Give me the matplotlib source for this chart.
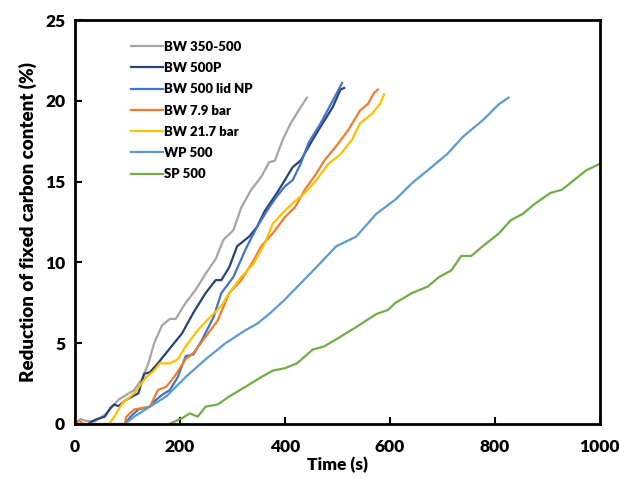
import matplotlib.pyplot as plt

plt.rcParams['font.family'] = ['Lato', 'DejaVu Sans']
plt.rcParams['font.weight'] = 'heavy'

# BW 350-500
t_gray = [0, 4, 11, 19, 38, 60, 72, 83, 98, 113, 128, 140, 151, 166, 181, 192, 211, 230,
          249, 268, 283, 302, 317, 336, 355, 370, 381, 396, 411, 426, 442]
v_gray = [0, 0.15, 0.3, 0.2, 0.15, 0.65, 1.1, 1.5, 1.8, 2.1, 2.8, 3.75, 5.0, 6.1, 6.5, 6.5,
          7.5, 8.3, 9.3, 10.2, 11.4, 12.0, 13.4, 14.5, 15.3, 16.2, 16.3, 17.6, 18.6, 19.4, 20.2]

# BW 500P
t_navy = [25, 38, 57, 68, 75, 83, 98, 121, 132, 143, 158, 174, 189, 204, 226, 249, 268, 279,
          294, 309, 332, 347, 362, 385, 400, 415, 430, 453, 468, 491, 506, 513]
v_navy = [0, 0.25, 0.45, 1.0, 1.2, 1.1, 1.5, 1.9, 3.1, 3.2, 3.75, 4.4, 5.0, 5.6, 6.9, 8.1,
          8.9, 8.9, 9.7, 11.0, 11.6, 12.2, 13.2, 14.3, 15.1, 15.9, 16.3, 17.6, 18.4, 19.6,
          20.7, 20.8]

# BW 500 lid NP
t_blue = [95, 106, 121, 143, 155, 166, 181, 196, 211, 226, 242, 264, 279, 302, 325, 347, 370,
          385, 400, 415, 430, 445, 468, 491, 509]
v_blue = [0, 0.45, 0.9, 1.07, 1.5, 1.8, 2.1, 2.9, 4.2, 4.3, 5.2, 6.6, 8.1, 9.1, 10.8, 12.2,
          13.4, 14.1, 14.7, 15.1, 16.1, 17.4, 18.6, 20.0, 21.1]

# BW 7.9 bar
t_orange = [0, 8, 16, 95, 98, 113, 143, 158, 174, 189, 211, 226, 249, 272, 294, 317, 340, 355,
            377, 400, 419, 438, 460, 475, 498, 521, 543, 558, 570, 577]
v_orange = [0, 0.2, 0, 0, 0.45, 0.9, 1.07, 2.1, 2.3, 2.9, 4.0, 4.4, 5.4, 6.4, 8.1, 8.9, 10.1,
            11.0, 11.8, 12.8, 13.4, 14.5, 15.5, 16.3, 17.2, 18.2, 19.4, 19.8, 20.5, 20.7]

# BW 21.7 bar
t_yellow = [65, 75, 91, 113, 136, 151, 162, 181, 196, 211, 234, 257, 279, 294, 317, 340, 362,
            377, 400, 423, 438, 460, 483, 506, 528, 543, 566, 581, 589]
v_yellow = [0, 0.45, 1.3, 1.9, 2.9, 3.3, 3.75, 3.75, 4.0, 4.8, 5.8, 6.6, 7.3, 8.1, 9.1, 9.9,
            11.2, 12.4, 13.2, 13.9, 14.3, 15.1, 16.1, 16.7, 17.6, 18.6, 19.2, 19.8, 20.4]

# WP 500
t_light = [95, 113, 143, 174, 211, 249, 287, 325, 347, 370, 400, 430, 460, 498, 536, 574, 611,
           642, 672, 709, 740, 777, 808, 826]
v_light = [0, 0.45, 1.07, 1.7, 2.9, 4.0, 5.0, 5.8, 6.2, 6.8, 7.7, 8.7, 9.7, 11.0, 11.6, 13.0,
           13.9, 14.9, 15.7, 16.7, 17.8, 18.8, 19.8, 20.2]

# SP 500
t_green = [180, 204, 219, 234, 249, 272, 294, 325, 355, 377, 400, 423, 453, 475, 506, 536, 574,
           596, 611, 642, 672, 694, 717, 736, 755, 777, 808, 830, 853, 875, 906, 928, 951, 974,
           1000]
v_green = [0, 0.35, 0.65, 0.45, 1.07, 1.2, 1.7, 2.3, 2.9, 3.3, 3.45, 3.75, 4.6, 4.8, 5.4, 6.0,
           6.8, 7.05, 7.5, 8.1, 8.5, 9.1, 9.5, 10.4, 10.4, 11.0, 11.8, 12.6, 13.0, 13.6, 14.3,
           14.5, 15.1, 15.7, 16.1]

series = [
    ("BW 350-500", t_gray, v_gray, "#A5A5A5"),
    ("BW 500P", t_navy, v_navy, "#264478"),
    ("BW 500 lid NP", t_blue, v_blue, "#4472C4"),
    ("BW 7.9 bar", t_orange, v_orange, "#ED7D31"),
    ("BW 21.7 bar", t_yellow, v_yellow, "#FFC000"),
    ("WP 500", t_light, v_light, "#5B9BD5"),
    ("SP 500", t_green, v_green, "#70AD47"),
]

fig = plt.figure(figsize=(6.19, 4.79), dpi=100)
ax = fig.add_axes([0.121, 0.115, 0.848, 0.843])

for name, t, v, c in series:
    ax.plot(t, v, color=c, lw=1.6, label=name)

ax.set_xlim(0, 1000)
ax.set_ylim(0, 25)
ax.set_xticks([0, 200, 400, 600, 800, 1000])
ax.set_yticks([0, 5, 10, 15, 20, 25])
ax.tick_params(direction='in', length=5, width=1.5, labelsize=12.5, pad=7)
ax.tick_params(axis='x', pad=11)
for s in ax.spines.values():
    s.set_linewidth(2)

ax.set_xlabel("Time (s)", fontsize=12.5, fontweight='heavy', labelpad=1)
ax.set_ylabel("Reduction of fixed carbon content (%)", fontsize=13.5, fontweight='heavy',
              labelpad=6)

ax.legend(loc='upper left', bbox_to_anchor=(0.095, 0.965), frameon=False,
          prop={'size': 9.5, 'weight': 'heavy'},
          handlelength=2.4, handletextpad=0.1, labelspacing=0.7, borderpad=0)

fig.savefig("out.png")
